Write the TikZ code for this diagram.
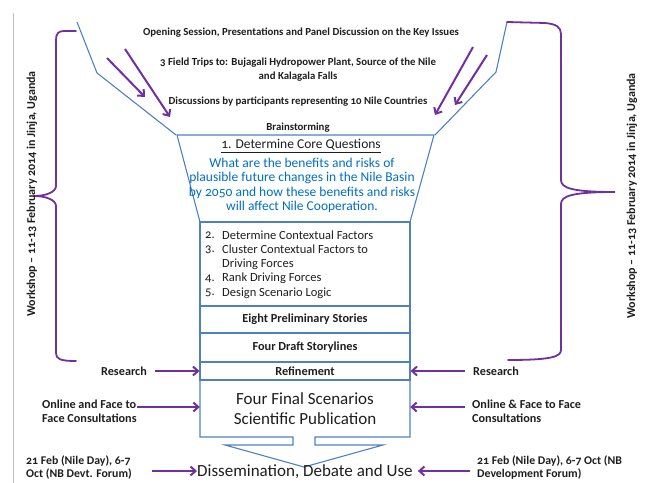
\documentclass[tikz,border=0pt]{standalone}
\usepackage{fontspec}
\setmainfont{Carlito}[Numbers=OldStyle]
\usetikzlibrary{arrows.meta,calc}
\definecolor{obl}{RGB}{79,129,189}
\definecolor{pur}{RGB}{112,48,160}
\definecolor{qbl}{RGB}{0,112,192}
\definecolor{gry}{RGB}{191,191,191}
\definecolor{ink}{RGB}{30,30,30}
\begin{document}
\begin{tikzpicture}[x=1bp,y=-1bp,
  outl/.style={draw=obl,line width=1.1bp,line join=miter},
  parr/.style={draw=pur,line width=2bp,-{Straight Barb[length=5bp,width=9bp,line width=2bp]}},
  brc/.style={draw=pur,line width=1.8bp,line cap=round},
  toptxt/.style={font=\fontsize{10.8bp}{14bp}\selectfont\bfseries,align=center,inner sep=0,text=ink},
  lbl/.style={font=\fontsize{12.2bp}{14bp}\selectfont\bfseries,inner sep=0,text=ink,align=left},
  lblb/.style={font=\fontsize{11.8bp}{13bp}\selectfont\bfseries,inner sep=0,text=ink,align=left},
  steptxt/.style={font=\fontsize{12.5bp}{14bp}\selectfont,inner sep=0,text=ink,anchor=west},
  qtxt/.style={font=\fontsize{13.5bp}{14.6bp}\selectfont,inner sep=0,text=qbl,align=center},
  big/.style={font=\fontsize{17bp}{20bp}\selectfont,align=center,inner sep=0,text=ink},
  boxn/.style={outl,rectangle,minimum width=210bp,inner sep=0,font=\fontsize{12.3bp}{14bp}\selectfont\bfseries,text=ink},
  side/.style={font=\fontsize{12bp}{14bp}\selectfont\bfseries,inner sep=0,text=ink,rotate=90}
]
\useasboundingbox (0,0) rectangle (649,483);
% left gray rule
\draw[gry,line width=1bp] (13,13) -- (13,483);

% funnel outline
\draw[outl] (77,22) -- (97,73) -- (176,135);
\draw[outl] (507,22) -- (496,72) -- (435,135);
\draw[outl] (177,135) -- (434,135) -- (410,222) -- (200,222) -- cycle;

% top texts
\node[toptxt] (t1) at (301,33) {Opening Session, Presentations and Panel Discussion on the Key Issues};
\node[toptxt] (t2) at (298,70) {3 Field Trips to: Bujagali Hydropower Plant, Source of the Nile\\and Kalagala Falls};
\node[toptxt] (t3) at (298,102) {Discussions by participants representing 10 Nile Countries};
\node[toptxt] (t4) at (298,128) {Brainstorming};

% top purple arrows
\coordinate (a1s) at (107,58); \coordinate (a1e) at (145,97);
\coordinate (a2s) at (125,49); \coordinate (a2e) at (170,117);
\coordinate (a3s) at (473,47); \coordinate (a3e) at (435,115);
\coordinate (a4s) at (487,55); \coordinate (a4e) at (455,105);
\draw[parr] (a1s) -- (a1e);
\draw[parr] (a2s) -- (a2e);
\draw[parr] (a3s) -- (a3e);
\draw[parr] (a4s) -- (a4e);

% core questions
\node[font=\fontsize{13.5bp}{14bp}\selectfont,inner sep=0,text=ink] (q0) at (301,146) {\underline{1. Determine Core Questions}};
\node[qtxt] (q1) at (302,185.5) {What are the benefits and risks of\\plausible future changes in the Nile Basin\\by 2050 and how these benefits and risks\\will affect Nile Cooperation.};

% steps box
\node[boxn,minimum height=84bp] (steps) at (305,264) {};
\node[steptxt] (n2) at (205,235) {2.};
\node[steptxt] (s2) at (222,235) {Determine Contextual Factors};
\node[steptxt] (n3) at (205,249.5) {3.};
\node[steptxt] (s3) at (222,249.5) {Cluster Contextual Factors to};
\node[steptxt] (s3b) at (222,264) {Driving Forces};
\node[steptxt] (n4) at (205,278.5) {4.};
\node[steptxt] (s4) at (222,278.5) {Rank Driving Forces};
\node[steptxt] (n5) at (205,293) {5.};
\node[steptxt] (s5) at (222,293) {Design Scenario Logic};

\node[boxn,minimum height=27bp] (eight) at (305,319.5) {Eight Preliminary Stories};
\node[boxn,minimum height=29bp] (draft) at (305,347.5) {Four Draft Storylines};
\node[boxn,minimum height=18bp] (ref) at (305,371) {Refinement};

% final box with down arrow
\node[big,minimum width=210bp,minimum height=57bp] (fin) at (305,408.5) {Four Final Scenarios\\Scientific Publication};
\draw[outl] (293,437) -- (200,437) -- (200,380) -- (410,380) -- (410,437) -- (315,437)
  -- (315,445) -- (383,445) -- (304,467) -- (225,445) -- (293,445) -- cycle;

\node[big,anchor=west] (dis) at (197,472) {Dissemination, Debate and Use};

% side labels
\node[lbl] (res1) at (124,371) {Research};
\node[lbl,anchor=west] (res2) at (473,371) {Research};
\node[lbl,anchor=west] (onl1) at (42,411) {Online and Face to\\Face Consultations};
\node[lbl,anchor=west] (onl2) at (472,411) {Online \& Face to Face\\Consultations};
\node[lblb,anchor=west] (feb1) at (26,468) {21 Feb (Nile Day), 6-7\\Oct (NB Devt. Forum)};
\node[lblb,anchor=west] (feb2) at (477,468) {21 Feb (Nile Day), 6-7 Oct (NB\\Development Forum)};

\draw[parr] ([xshift=8bp]res1.east) -- (ref.west);
\draw[parr] ([xshift=-8bp]res2.west) -- (ref.east);
\coordinate (o1) at ([yshift=4bp]onl1.east);
\coordinate (o2) at ([xshift=-7bp,yshift=4bp]onl2.west);
\draw[parr] (o1) -- (o1 -| fin.west);
\draw[parr] (o2) -- (o2 -| fin.east);
\coordinate (f1) at ([xshift=126bp,yshift=-3bp]feb1.west);
\coordinate (f2) at ([xshift=-7bp,yshift=-3bp]feb2.west);
\draw[parr] (f1) -- (f1 -| dis.west);
\draw[parr] (f2) -- ([xshift=5bp]f2 -| dis.east);

% braces
\draw[brc] (76,31) -- (64,31) .. controls (58,31) and (56,34) .. (56,40) -- (56,186)
  .. controls (56,192) and (46,196) .. (34,196)
  .. controls (46,196) and (56,200) .. (56,206) -- (56,353)
  .. controls (56,359) and (60,361) .. (76,361);
\draw[brc] (507,22) -- (545,23) .. controls (556,24) and (561,27) .. (561,34) -- (561,180)
  .. controls (561,188) and (572,192) .. (615,192)
  .. controls (572,192) and (561,196) .. (561,204) -- (561,350)
  .. controls (561,357) and (550,360) .. (508,360);

\node[side] (ws1) at (32,194) {Workshop – 11-13 February 2014 in Jinja, Uganda};
\node[side] (ws2) at (632,196) {Workshop – 11-13 February 2014 in Jinja, Uganda};
\end{tikzpicture}
\end{document}
